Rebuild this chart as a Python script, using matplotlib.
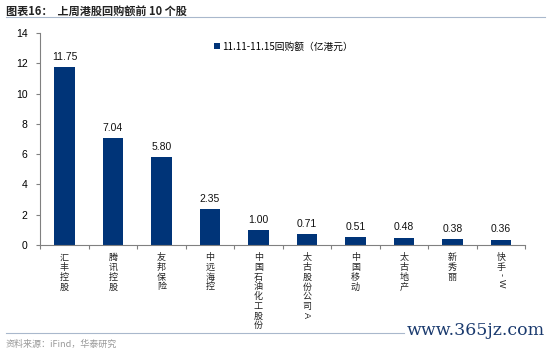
import matplotlib.pyplot as plt
from matplotlib.lines import Line2D

plt.rcParams['font.family'] = ['Noto Sans CJK SC', 'DejaVu Sans']

# 数据
names = ['汇丰控股', '腾讯控股', '友邦保险', '中远海控', '中国石油化工股份',
         '太古股份公司A', '中国移动', '太古地产', '新秀丽', '快手-W']
values = [11.75, 7.04, 5.80, 2.35, 1.00, 0.71, 0.51, 0.48, 0.38, 0.36]
series_name = '11.11-11.15回购额（亿港元）'
yticks = [0, 2, 4, 6, 8, 10, 12, 14]

bar_color = '#003478'
axis_color = '#808080'

fig = plt.figure(figsize=(5.5, 3.52), dpi=100)
ax = fig.add_axes([0.073, 0.304, 0.882, 0.602])

x = list(range(len(names)))
ax.bar(x, values, width=0.42, color=bar_color, label=series_name, zorder=2)
for xi, v in zip(x, values):
    ax.text(xi, v + 0.35, f'{v:.2f}', ha='center', va='bottom', fontsize=7.5,
            family=['Liberation Sans', 'DejaVu Sans'], color='#111111')

ax.set_xlim(-0.5, len(names) - 0.5)
ax.set_ylim(0, 14)
ax.set_yticks(yticks)
ax.set_yticklabels([str(t) for t in yticks], fontsize=7.5,
                   family=['Liberation Sans', 'DejaVu Sans'])
ax.tick_params(axis='y', length=3, width=0.8, color=axis_color, pad=6)

# x轴刻度放在类别之间
ax.set_xticks([i + 0.5 for i in range(len(names) - 1)] + [-0.5, len(names) - 0.5])
ax.set_xticklabels([])
ax.tick_params(axis='x', length=3, width=0.8, color=axis_color, direction='out')

# 竖排类别标签，拉丁字母旋转
for xi, n in zip(x, names):
    off = -6.0
    for ch in n:
        latin = ord(ch) < 128
        ax.annotate(ch, xy=(xi, 0), xycoords='data', xytext=(0, off),
                    textcoords='offset points', ha='center', va='top',
                    fontsize=6.5, color='#222222',
                    rotation=-90 if latin else 0,
                    family=['Liberation Sans', 'DejaVu Sans'] if latin else None)
        off -= 4.5 if ch == '-' else (6.0 if latin else 7.0)

for s in ['top', 'right']:
    ax.spines[s].set_visible(False)
ax.spines['left'].set_color(axis_color)
ax.spines['bottom'].set_color(axis_color)

leg = ax.legend(loc='upper left', bbox_to_anchor=(0.34, 1.0), frameon=False,
                fontsize=7, handlelength=0.6, handleheight=0.6, handletextpad=0.3)

# 标题与分隔线
fig.text(0.01, 0.985, '图表16：  上周港股回购额前 10 个股', fontsize=8, fontweight='bold',
         ha='left', va='top', color='#222222')
fig.add_artist(Line2D([0.01, 0.99], [0.952, 0.952], color='#a9b8cc', lw=0.8))
fig.add_artist(Line2D([0.01, 0.735], [0.054, 0.054], color='#a9b8cc', lw=0.8))
fig.text(0.01, 0.022, '资料来源：iFind，华泰研究', fontsize=6.5, color='#999999',
         ha='left', va='center')
fig.text(0.99, 0.06, 'www.365jz.com', fontsize=12.5, color='#1a3a6e', ha='right',
         va='center', family=['DejaVu Serif'])

fig.savefig('out.png', dpi=100)
